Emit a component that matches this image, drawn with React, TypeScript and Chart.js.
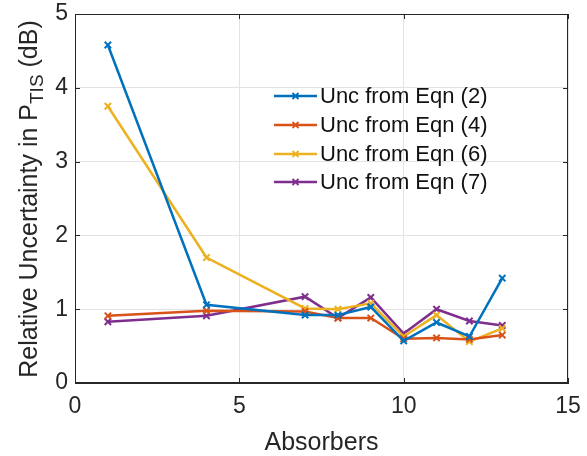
import React, { useEffect, useRef } from "react";
import { Chart, registerables } from "chart.js";

Chart.register(...registerables);

const absorbers = [1, 4, 7, 8, 9, 10, 11, 12, 13];
const uncEqn2 = [4.58, 1.06, 0.92, 0.92, 1.03, 0.57, 0.82, 0.63, 1.42];
const uncEqn4 = [0.91, 0.98, 0.97, 0.88, 0.88, 0.6, 0.61, 0.59, 0.65];
const uncEqn6 = [3.75, 1.7, 1.01, 1.0, 1.08, 0.63, 0.92, 0.56, 0.74];
const uncEqn7 = [0.83, 0.91, 1.17, 0.88, 1.16, 0.67, 1.0, 0.84, 0.78];
const seriesLabels = ["Unc from Eqn (2)", "Unc from Eqn (4)", "Unc from Eqn (6)", "Unc from Eqn (7)"];
const seriesColors = ["#0072BD", "#D95319", "#EDB120", "#7E2F8E"];
const xTicks = [0, 5, 10, 15];
const yTicks = [0, 1, 2, 3, 4, 5];
const xTitle = "Absorbers";
const yTitleMain = "Relative Uncertainty in P";
const yTitleSub = "TIS";
const yTitleEnd = " (dB)";

const FONT = "'Liberation Sans', Arial, Helvetica, sans-serif";
const AXIS_COLOR = "#262626";
const TEXT_COLOR = "#262626";

const framePlugin = {
  id: "frame",
  afterDraw(chart: any) {
    const { ctx, chartArea } = chart;
    const { left, right, top, bottom } = chartArea;
    const xs = chart.scales.x;
    const ys = chart.scales.y;
    ctx.save();
    ctx.strokeStyle = AXIS_COLOR;
    ctx.lineWidth = 1;
    ctx.strokeRect(left + 0.5, top + 0.5, right - left - 1, bottom - top - 1);
    const tl = 5;
    ctx.beginPath();
    xTicks.forEach((t) => {
      const px = Math.round(xs.getPixelForValue(t)) + 0.5;
      ctx.moveTo(px, bottom);
      ctx.lineTo(px, bottom - tl);
      ctx.moveTo(px, top);
      ctx.lineTo(px, top + tl);
    });
    yTicks.forEach((t) => {
      const py = Math.round(ys.getPixelForValue(t)) + 0.5;
      ctx.moveTo(left, py);
      ctx.lineTo(left + tl, py);
      ctx.moveTo(right, py);
      ctx.lineTo(right - tl, py);
    });
    ctx.stroke();

    // Y axis title with subscript
    const mainFont = `25px ${FONT}`;
    const subFont = `19px ${FONT}`;
    ctx.font = mainFont;
    const w1 = ctx.measureText(yTitleMain).width;
    const w3 = ctx.measureText(yTitleEnd).width;
    ctx.font = subFont;
    const w2 = ctx.measureText(yTitleSub).width;
    const total = w1 + w2 + w3;
    const cy = 199;
    ctx.translate(37, cy);
    ctx.rotate(-Math.PI / 2);
    ctx.fillStyle = TEXT_COLOR;
    ctx.textBaseline = "alphabetic";
    ctx.textAlign = "left";
    let x0 = -total / 2;
    ctx.font = mainFont;
    ctx.fillText(yTitleMain, x0, 0);
    x0 += w1;
    ctx.font = subFont;
    ctx.fillText(yTitleSub, x0, 6);
    x0 += w2;
    ctx.font = mainFont;
    ctx.fillText(yTitleEnd, x0, 0);
    ctx.restore();

    // Legend
    ctx.save();
    const lx0 = 274;
    const lx1 = 317;
    const rowY = [96, 125, 154, 182];
    ctx.font = `22px ${FONT}`;
    ctx.textBaseline = "middle";
    ctx.textAlign = "left";
    seriesLabels.forEach((label, i) => {
      const y = rowY[i];
      ctx.strokeStyle = seriesColors[i];
      ctx.lineWidth = 2.5;
      ctx.beginPath();
      ctx.moveTo(lx0, y);
      ctx.lineTo(lx1, y);
      ctx.stroke();
      const mx = (lx0 + lx1) / 2;
      const r = 3;
      ctx.lineWidth = 1.8;
      ctx.beginPath();
      ctx.moveTo(mx - r, y - r);
      ctx.lineTo(mx + r, y + r);
      ctx.moveTo(mx - r, y + r);
      ctx.lineTo(mx + r, y - r);
      ctx.stroke();
      ctx.fillStyle = "#111111";
      ctx.fillText(label, 320, y + 1);
    });
    ctx.restore();
  },
};

const zeroPadding = (s: any) => {
  s.paddingTop = 0;
  s.paddingBottom = 0;
  s.paddingLeft = 0;
  s.paddingRight = 0;
};

export default function App() {
  const canvasRef = useRef<HTMLCanvasElement | null>(null);

  useEffect(() => {
    const canvas = canvasRef.current;
    if (!canvas) return;
    const allSeries = [uncEqn2, uncEqn4, uncEqn6, uncEqn7];
    const chart = new Chart(canvas, {
      type: "line",
      data: {
        datasets: allSeries.map((vals, i) => ({
          label: seriesLabels[i],
          data: absorbers.map((x, j) => ({ x, y: vals[j] })),
          borderColor: seriesColors[i],
          backgroundColor: seriesColors[i],
          borderWidth: 2.5,
          pointStyle: "crossRot",
          pointRadius: 4.5,
          pointBorderWidth: 2,
          pointHoverRadius: 4.5,
          tension: 0,
          fill: false,
        })),
      },
      options: {
        responsive: false,
        animation: false,
        events: [],
        layout: { padding: { left: 0, right: 19, top: 14, bottom: 0 } },
        plugins: {
          legend: { display: false },
          tooltip: { enabled: false },
        },
        scales: {
          x: {
            type: "linear",
            min: 0,
            max: 15,
            afterBuildTicks: (s: any) => {
              s.ticks = xTicks.map((v) => ({ value: v }));
            },
            afterFit: (s: any) => {
              s.height = 73;
              zeroPadding(s);
            },
            grid: { color: "#e3e3e3", drawTicks: false, lineWidth: 1 },
            border: { display: true, color: AXIS_COLOR },
            ticks: {
              padding: 10,
              color: TEXT_COLOR,
              font: { family: FONT, size: 23 },
            },
            title: {
              display: true,
              text: xTitle,
              color: TEXT_COLOR,
              font: { family: FONT, size: 25, lineHeight: 1 },
              padding: { top: 0, bottom: 0 },
            },
          },
          y: {
            type: "linear",
            min: 0,
            max: 5,
            afterBuildTicks: (s: any) => {
              s.ticks = yTicks.map((v) => ({ value: v }));
            },
            afterFit: (s: any) => {
              s.width = 75;
              zeroPadding(s);
            },
            grid: { color: "#e3e3e3", drawTicks: false, lineWidth: 1 },
            border: { display: true, color: AXIS_COLOR },
            ticks: {
              padding: 7,
              color: TEXT_COLOR,
              font: { family: FONT, size: 23 },
            },
          },
        },
      },
      plugins: [framePlugin],
    } as any);
    return () => chart.destroy();
  }, []);

  return (
    <div style={{ position: "absolute", left: 0, top: 0, width: 587, height: 456, background: "#fff" }}>
      <canvas ref={canvasRef} width={587} height={456} style={{ display: "block" }} />
    </div>
  );
}
